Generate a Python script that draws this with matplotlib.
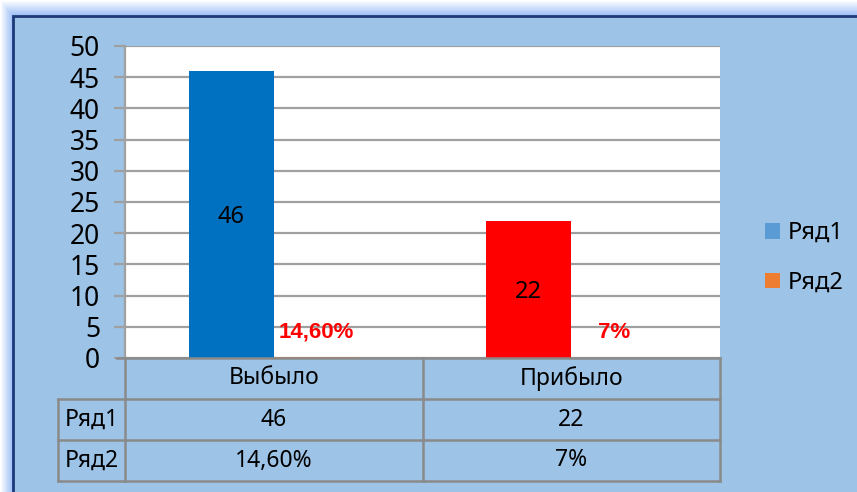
import numpy as np
import matplotlib
matplotlib.use('Agg')
import matplotlib.pyplot as plt
from matplotlib.patches import Rectangle, Patch
from matplotlib.transforms import blended_transform_factory

plt.rcParams['font.family'] = ['Noto Sans', 'DejaVu Sans']

categories = ['Выбыло', 'Прибыло']
series_names = ['Ряд1', 'Ряд2']
series1 = [46, 22]
series2 = [0.146, 0.07]
series2_text = ['14,60%', '7%']
series1_colors = ['#0070C0', '#FF0000']
legend_colors = ['#5B9BD5', '#ED7D31']

W, H = 857, 492
fig = plt.figure(figsize=(W / 100, H / 100), dpi=100)
fig.patch.set_facecolor('white')

# background: soft glow + light blue chart area with dark frame
bg = fig.add_axes([0, 0, 1, 1], zorder=0)
bg.set_xlim(0, W)
bg.set_ylim(H, 0)
bg.axis('off')
c0 = np.array([1.0, 1.0, 1.0])
c1 = np.array([0.62, 0.75, 0.97])
for i in range(16):
    t = i / 15
    col = tuple(c0 * (1 - t) + c1 * t)
    bg.add_patch(Rectangle((i * 13 / 16, i), W, 1.05, facecolor=col,
                           edgecolor='none'))
    bg.add_patch(Rectangle((i * 13 / 16, i), 13 / 16 + 0.05, H, facecolor=col,
                           edgecolor='none'))
bg.add_patch(Rectangle((13, 16), W + 10, H + 10, facecolor='#9DC3E6',
                       edgecolor='#1F3A78', linewidth=2))

ax = fig.add_axes([125 / W, (H - 358) / H, 595 / W, 312 / H], zorder=1)
ax.set_facecolor('white')

x = np.arange(len(categories))
bw = 0.286
ax.bar(x - bw / 2, series1, width=bw, color=series1_colors, zorder=3)
ax.bar(x + bw / 2, series2, width=bw, color=legend_colors[1], zorder=3)

for xi, v in zip(x, series1):
    ax.text(xi - bw / 2, v / 2, str(v), ha='center', va='center_baseline',
            fontsize=17, color='black', zorder=4)
for xi, v, t in zip(x, series2, series2_text):
    ax.annotate(t, (xi + bw / 2, v), xytext=(0, 18), textcoords='offset points',
                ha='center', va='center', fontsize=16, fontweight='bold',
                family='Liberation Sans', color='#FF0000', zorder=4)

ax.set_xlim(-0.5, 1.5)
ax.set_ylim(0, 50)
ax.set_yticks(np.arange(0, 51, 5))
ax.set_xticks([])
ax.yaxis.grid(True, color='#A0A0A0', linewidth=1.6)
ax.set_axisbelow(True)
for s in ['top', 'right', 'bottom']:
    ax.spines[s].set_visible(False)
ax.spines['left'].set_color('#A0A0A0')
ax.spines['left'].set_linewidth(1.6)
ax.tick_params(axis='y', length=8, width=1.6, color='#A0A0A0',
               labelsize=19, pad=10, labelcolor='black')

# data table under the plot
tr = blended_transform_factory(ax.transData, ax.transAxes)
line_kw = dict(color='#8A8A8A', linewidth=1.8, transform=tr, clip_on=False, zorder=5)
rh = 41 / 312
x_head = -0.5 - 67 / 297.5
cols = [-0.5, 0.5, 1.5]
ax.plot([-0.5 - 8 / 297.5, 1.5], [0, 0], **line_kw)
for r in (1, 2, 3):
    ax.plot([x_head, 1.5], [-rh * r, -rh * r], **line_kw)
for c in cols:
    ax.plot([c, c], [0, -3 * rh], **line_kw)
ax.plot([x_head, x_head], [-rh, -3 * rh], **line_kw)

cell_kw = dict(transform=tr, ha='center', va='center', fontsize=16.5,
               color='black', clip_on=False)
for xi, cat in zip(x, categories):
    ax.text(xi, -rh * 0.5, cat, **cell_kw)
row_vals = [[str(v) for v in series1], series2_text]
for ri, (name, vals) in enumerate(zip(series_names, row_vals)):
    yc = -rh * (ri + 1.5)
    ax.text((x_head - 0.5) / 2, yc, name, **cell_kw)
    for xi, t in zip(x, vals):
        ax.text(xi, yc, t, **cell_kw)

handles = [Patch(facecolor=c, edgecolor='none') for c in legend_colors]
fig.legend(handles, series_names, loc='center left',
           bbox_to_anchor=(744 / W, 1 - 258 / H), frameon=False,
           fontsize=17, handlelength=0.64, handleheight=0.64,
           handletextpad=0.3, labelspacing=1.1)

fig.savefig('out.png', dpi=100)
